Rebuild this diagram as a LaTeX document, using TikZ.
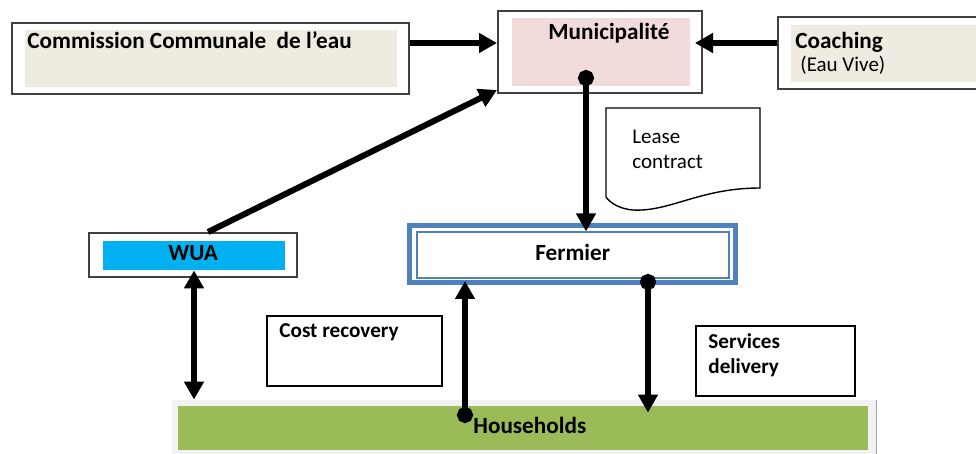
\documentclass[tikz,border=0pt]{standalone}
\usepackage{fontspec}
\setmainfont{Carlito}
\usetikzlibrary{arrows.meta,fit}
\definecolor{tanbg}{HTML}{EEECE1}
\definecolor{pinkbg}{HTML}{F2DCDB}
\definecolor{wuablue}{HTML}{00B0F0}
\definecolor{fermblue}{HTML}{4F81BD}
\definecolor{housegreen}{HTML}{9BBB59}
\definecolor{housegrey}{HTML}{F2F2F2}
\tikzset{
  frame/.style={draw=black!75, line width=1pt, inner sep=0pt},
  paper/.style={draw=black, line width=0.7pt, inner sep=0pt},
  panel/.style={inner sep=0pt},
  big/.style={font=\bfseries\fontsize{11.6}{14}\selectfont, inner sep=0pt, anchor=base west},
  small/.style={font=\bfseries\fontsize{10.6}{13}\selectfont, inner sep=0pt, anchor=base west},
  plain/.style={font=\fontsize{10.5}{13}\selectfont, inner sep=0pt, anchor=base west},
  link/.style={line width=3pt, -{Triangle[length=9pt,width=9.5pt]}},
  duallink/.style={line width=3pt, {Triangle[length=9pt,width=9.5pt]}-{Triangle[length=9pt,width=9.5pt]}},
  dotlink/.style={line width=3pt, {Circle[length=8pt]}-{Triangle[length=9pt,width=9.5pt]}},
}

\begin{document}
\begin{tikzpicture}[x=0.5pt,y=-0.5pt]
\useasboundingbox (0,0) rectangle (976,454);

% top row
\node[panel, fill=tanbg, fit={(25,30) (397,87)}] (commIn) {};
\node[frame, fit={(12,23) (409,94)}] (comm) {};
\node[big] (commTxt) at (27,49) {Commission Communale\ \ de l’eau};

\node[panel, fill=pinkbg, fit={(512,18) (690,86)}] (muniIn) {};
\node[frame, fit={(498,11) (702,93)}] (muni) {};
\node[big] (muniTxt) at (548,40) {Municipalité};

\node[panel, fill=tanbg, fit={(791,25) (990,82)}] (coachIn) {};
\node[frame, fit={(778,17) (990,89)}] (coach) {};
\node[big] (coachTxt) at (795,49) {Coaching};
\node[plain] (coachSub) at (800,72) {(Eau Vive)};

% lease contract sheet
\draw[paper] (606,108) -- (760,108) -- (760,188)
  .. controls (700,188) and (670,212) .. (633,210)
  .. controls (620,209) and (610,203) .. (606,197) -- cycle;
\node[plain] (lease1) at (632,144) {Lease};
\node[plain] (lease2) at (632,169) {contract};

% middle row
\node[panel, fill=wuablue, fit={(103,241) (285,270)}] (wuaIn) {};
\node[frame, fit={(89,233) (297,277)}] (wua) {};
\node[big] (wuaTxt) at (168,261) {WUA};

\node[panel, draw=fermblue, line width=2.5pt, fit={(409.5,225.5) (735.5,282.5)}] (ferm) {};
\node[panel, draw=fermblue, line width=0.6pt, fit={(417,232) (729,278)}] (fermIn) {};
\node[big] (fermTxt) at (535,261) {Fermier};

\node[paper, fit={(267,316) (442,386)}] (cost) {};
\node[small] (costTxt) at (279,338) {Cost recovery};

\node[paper, fill=white, fit={(696,326) (855,396)}] (serv) {};
\node[small] (serv1) at (708,349) {Services};
\node[small] (serv2) at (708,374) {delivery};

% households
\node[panel, fill=housegrey, fit={(172,400) (876,454)}] (house) {};
\node[panel, fill=housegreen, fit={(178,406) (868,450)}] (houseIn) {};
\draw[black!35, line width=0.7pt] (house.north east) -- (house.south east);
\node[big] (houseTxt) at (473,434) {Households};

% connectors
\draw[link] ([yshift=7.75pt]comm.east) -- ([yshift=7.75pt]comm.east -| muni.west);
\draw[link, shorten >=-4pt] ([yshift=5pt]coach.west) -- ([yshift=5pt]coach.west -| muni.east);
\draw[link] ([xshift=7.5pt]wua.north) -- ([yshift=2pt]muni.south west);
\coordinate (muniDot) at (586,70);
\draw[dotlink] (muniDot) -- (muniDot |- fermIn.north);
\draw[duallink] (wuaIn.south) -- (wuaIn.south |- house.north);
\coordinate (houseDot) at (465,423);
\draw[dotlink, shorten >=-2pt] (houseDot) -- (houseDot |- ferm.south);
\coordinate (fermDot) at (648,274);
\draw[dotlink] (fermDot) -- ([yshift=-3.5pt]fermDot |- houseIn.north);
\end{tikzpicture}
\end{document}
